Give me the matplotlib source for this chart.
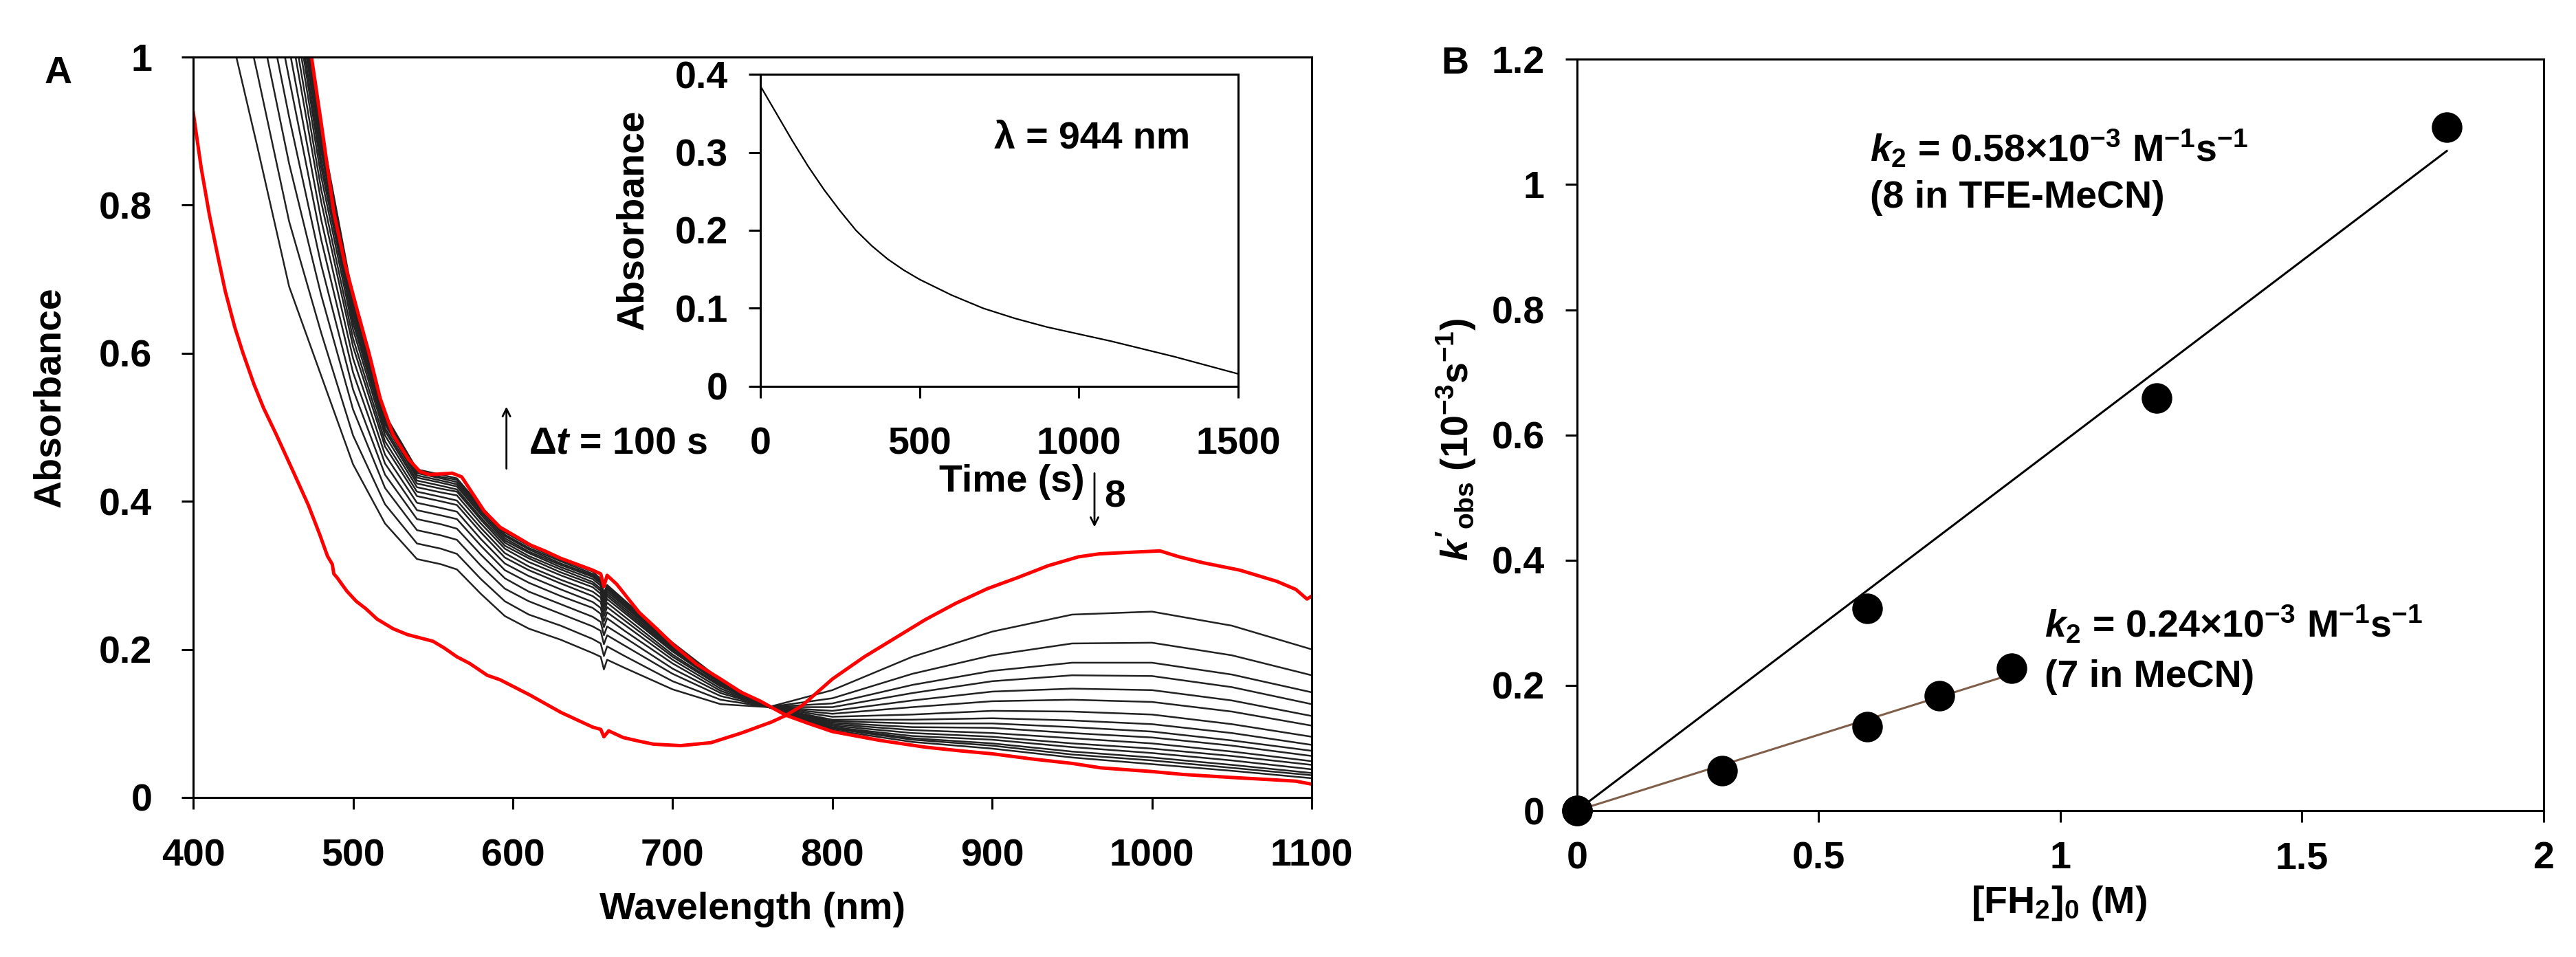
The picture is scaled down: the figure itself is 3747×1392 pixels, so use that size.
import matplotlib
matplotlib.use('Agg')
import matplotlib.pyplot as plt
from matplotlib.ticker import FuncFormatter

FONT = 'Liberation Sans'
FS = 20

plt.rcParams['font.family'] = [FONT, 'DejaVu Sans']
plt.rcParams['font.weight'] = 'bold'
plt.rcParams['mathtext.fontset'] = 'custom'
plt.rcParams['mathtext.rm'] = FONT + ':bold'
plt.rcParams['mathtext.it'] = FONT + ':italic:bold'
plt.rcParams['mathtext.bf'] = FONT + ':bold'

# ---- panel A : spectra ----
# red spectrum of 8 (start)
red_start_wl = [400, 405, 410, 415, 420, 426, 431, 438, 444, 452, 463, 472, 479, 484, 487, 488, 490,
                496, 502, 508, 515, 525, 534, 550, 557, 565, 573, 584, 592, 611, 630, 650, 655, 657,
                660, 669, 679, 688, 705, 724, 743, 762, 771, 781, 800, 820, 839, 858, 877, 897, 916,
                935, 954, 967, 985, 1005, 1017, 1032, 1055, 1078, 1090, 1097, 1100]
red_start_abs = [0.925, 0.85, 0.788, 0.735, 0.684, 0.635, 0.601, 0.558, 0.526, 0.49, 0.438, 0.395, 0.356,
                 0.326, 0.315, 0.302, 0.297, 0.279, 0.265, 0.255, 0.241, 0.228, 0.220, 0.211, 0.202, 0.19,
                 0.181, 0.165, 0.159, 0.138, 0.115, 0.095, 0.092, 0.082, 0.090, 0.081, 0.076, 0.072, 0.07,
                 0.074, 0.087, 0.102, 0.111, 0.124, 0.160, 0.190, 0.215, 0.240, 0.262, 0.282, 0.297, 0.313,
                 0.325, 0.329, 0.331, 0.333, 0.325, 0.317, 0.307, 0.292, 0.281, 0.268, 0.272]

# red spectrum at the end
red_end_wl = [465, 474, 480, 488, 495, 502, 510, 517, 525, 535, 542, 548, 555, 562, 568, 575, 582, 592,
              600, 611, 620, 630, 640, 650, 655, 657, 659, 665, 679, 690, 701, 715, 730, 743, 755, 765,
              771, 785, 800, 830, 858, 880, 900, 925, 950, 968, 1000, 1020, 1050, 1075, 1090, 1100]
red_end_abs = [1.13, 1.0, 0.912, 0.79, 0.72, 0.663, 0.60, 0.539, 0.49, 0.456, 0.44, 0.436, 0.437, 0.438,
               0.433, 0.41, 0.387, 0.365, 0.355, 0.341, 0.333, 0.323, 0.315, 0.307, 0.302, 0.285, 0.300,
               0.288, 0.25, 0.228, 0.205, 0.18, 0.16, 0.142, 0.13, 0.118, 0.111, 0.10, 0.089, 0.077, 0.068,
               0.063, 0.059, 0.052, 0.046, 0.040, 0.035, 0.031, 0.027, 0.024, 0.022, 0.018]

# black spectra every 100 s
black_wl = [420, 440, 460, 480, 500, 520, 540, 555, 565, 580, 595, 610, 630, 650, 655, 657, 659, 670,
            700, 730, 760, 800, 850, 900, 950, 1000, 1050, 1100]
black_abs = [
    [1.064, 0.880, 0.690, 0.570, 0.450, 0.370, 0.322, 0.315, 0.308, 0.275, 0.245, 0.228, 0.213, 0.195, 0.190, 0.173, 0.186, 0.175, 0.146, 0.126, 0.122, 0.145, 0.190, 0.224, 0.247, 0.251, 0.232, 0.200],
    [1.172, 0.979, 0.778, 0.628, 0.489, 0.396, 0.343, 0.336, 0.329, 0.295, 0.265, 0.247, 0.232, 0.214, 0.208, 0.191, 0.204, 0.191, 0.157, 0.132, 0.122, 0.134, 0.167, 0.192, 0.208, 0.209, 0.192, 0.165],
    [1.268, 1.066, 0.856, 0.679, 0.524, 0.418, 0.361, 0.354, 0.348, 0.313, 0.282, 0.265, 0.248, 0.231, 0.225, 0.207, 0.219, 0.205, 0.167, 0.137, 0.122, 0.127, 0.152, 0.171, 0.182, 0.182, 0.166, 0.142],
    [1.344, 1.135, 0.919, 0.720, 0.551, 0.436, 0.376, 0.369, 0.363, 0.328, 0.296, 0.278, 0.261, 0.244, 0.237, 0.219, 0.231, 0.216, 0.174, 0.141, 0.122, 0.122, 0.141, 0.157, 0.165, 0.164, 0.149, 0.126],
    [1.407, 1.193, 0.971, 0.754, 0.574, 0.451, 0.388, 0.381, 0.376, 0.340, 0.307, 0.290, 0.272, 0.256, 0.248, 0.230, 0.242, 0.225, 0.181, 0.144, 0.122, 0.117, 0.131, 0.143, 0.147, 0.145, 0.131, 0.110],
    [1.458, 1.240, 1.012, 0.781, 0.593, 0.463, 0.398, 0.391, 0.386, 0.349, 0.316, 0.299, 0.281, 0.264, 0.256, 0.238, 0.250, 0.233, 0.186, 0.147, 0.122, 0.113, 0.122, 0.130, 0.132, 0.129, 0.116, 0.097],
    [1.503, 1.280, 1.049, 0.805, 0.609, 0.474, 0.407, 0.400, 0.395, 0.358, 0.324, 0.307, 0.289, 0.272, 0.264, 0.245, 0.257, 0.239, 0.190, 0.150, 0.122, 0.109, 0.112, 0.117, 0.116, 0.112, 0.099, 0.082],
    [1.535, 1.309, 1.075, 0.822, 0.620, 0.481, 0.413, 0.406, 0.401, 0.364, 0.330, 0.312, 0.294, 0.278, 0.270, 0.251, 0.263, 0.244, 0.193, 0.151, 0.122, 0.105, 0.105, 0.107, 0.104, 0.099, 0.087, 0.071],
    [1.566, 1.338, 1.101, 0.839, 0.632, 0.489, 0.419, 0.412, 0.408, 0.370, 0.336, 0.318, 0.300, 0.284, 0.275, 0.257, 0.268, 0.249, 0.197, 0.153, 0.122, 0.103, 0.100, 0.100, 0.095, 0.089, 0.077, 0.063],
    [1.592, 1.361, 1.122, 0.852, 0.641, 0.495, 0.424, 0.417, 0.413, 0.375, 0.340, 0.323, 0.304, 0.288, 0.279, 0.260, 0.272, 0.252, 0.199, 0.154, 0.122, 0.101, 0.095, 0.094, 0.087, 0.081, 0.070, 0.056],
    [1.611, 1.379, 1.137, 0.862, 0.648, 0.499, 0.428, 0.421, 0.416, 0.378, 0.344, 0.326, 0.308, 0.291, 0.282, 0.263, 0.275, 0.255, 0.201, 0.155, 0.122, 0.099, 0.091, 0.087, 0.080, 0.073, 0.062, 0.049],
    [1.630, 1.396, 1.153, 0.873, 0.655, 0.504, 0.432, 0.425, 0.420, 0.382, 0.347, 0.330, 0.311, 0.295, 0.286, 0.267, 0.278, 0.258, 0.203, 0.156, 0.122, 0.097, 0.087, 0.082, 0.073, 0.066, 0.056, 0.044],
    [1.646, 1.411, 1.166, 0.881, 0.660, 0.507, 0.435, 0.428, 0.423, 0.385, 0.350, 0.332, 0.314, 0.298, 0.289, 0.270, 0.281, 0.260, 0.205, 0.157, 0.122, 0.095, 0.083, 0.078, 0.068, 0.060, 0.050, 0.038],
    [1.662, 1.425, 1.179, 0.890, 0.666, 0.511, 0.438, 0.431, 0.426, 0.388, 0.353, 0.335, 0.316, 0.300, 0.291, 0.272, 0.283, 0.262, 0.206, 0.158, 0.122, 0.094, 0.080, 0.073, 0.062, 0.054, 0.044, 0.033],
    [1.675, 1.437, 1.189, 0.896, 0.671, 0.514, 0.440, 0.433, 0.429, 0.390, 0.355, 0.337, 0.319, 0.302, 0.293, 0.274, 0.285, 0.264, 0.207, 0.159, 0.122, 0.093, 0.078, 0.070, 0.058, 0.050, 0.040, 0.030],
    [1.687, 1.448, 1.200, 0.903, 0.675, 0.517, 0.443, 0.436, 0.431, 0.393, 0.358, 0.340, 0.321, 0.305, 0.295, 0.276, 0.287, 0.266, 0.209, 0.159, 0.122, 0.091, 0.075, 0.066, 0.054, 0.045, 0.036, 0.026],
]

# inset: decay at 944 nm
time_s = [0, 50, 100, 150, 200, 250, 300, 350, 400, 450, 500, 600, 700, 800, 900, 1000, 1100, 1200,
          1300, 1400, 1500]
abs_944 = [0.385, 0.350, 0.315, 0.282, 0.252, 0.225, 0.200, 0.180, 0.163, 0.149, 0.137, 0.117, 0.100,
           0.087, 0.076, 0.067, 0.058, 0.048, 0.038, 0.027, 0.016]

# ---- panel B : kobs vs [FH2] ----
tfe_conc = [0, 0.6, 1.2, 1.8]
tfe_kobs = [0, 0.323, 0.659, 1.092]
mecn_conc = [0, 0.3, 0.6, 0.75, 0.9]
mecn_kobs = [0, 0.064, 0.134, 0.183, 0.227]

fmt = FuncFormatter(lambda v, p: '%g' % round(v, 3))


def style_axes(ax, pad, length):
    for s in ax.spines.values():
        s.set_linewidth(1.1)
    ax.tick_params(direction='out', length=length, width=1.1, pad=pad, labelsize=FS,
                   top=False, right=False)
    ax.xaxis.set_major_formatter(fmt)
    ax.yaxis.set_major_formatter(fmt)


fig = plt.figure(figsize=(18.74, 6.96), dpi=200)

ax1 = fig.add_axes([0.075, 0.1667, 0.4341, 0.7737])
for spec in black_abs:
    ax1.plot(black_wl, spec, color='#222222', lw=0.9)
ax1.plot(red_end_wl, red_end_abs, color='#ff0000', lw=1.8)
ax1.plot(red_start_wl, red_start_abs, color='#ff0000', lw=1.8)
ax1.set_xlim(400, 1100)
ax1.set_ylim(0, 1)
ax1.set_xticks(range(400, 1101, 100))
ax1.set_yticks([0, 0.2, 0.4, 0.6, 0.8, 1.0])
style_axes(ax1, 15.5, 6)
ax1.text(-0.128, 0.541, 'Absorbance', transform=ax1.transAxes, rotation=90, ha='center',
         va='center', fontsize=FS)
ax1.text(0.5, -0.151, 'Wavelength (nm)', transform=ax1.transAxes, ha='center', va='center',
         fontsize=FS)
ax1.annotate('', xy=(596, 0.533), xytext=(596, 0.439),
             arrowprops=dict(arrowstyle='->', lw=1.0, color='black'))
ax1.text(610, 0.478, 'Δ$t$ = 100 s', ha='left', va='center', fontsize=FS)
ax1.annotate('', xy=(964, 0.36), xytext=(964, 0.443),
             arrowprops=dict(arrowstyle='->', lw=1.0, color='black'))
ax1.text(970, 0.405, '8', ha='left', va='center', fontsize=FS)

# inset
ax2 = fig.add_axes([0.2951, 0.5963, 0.1854, 0.3261])
ax2.set_facecolor('white')
ax2.plot(time_s, abs_944, color='black', lw=0.8)
ax2.set_xlim(0, 1500)
ax2.set_ylim(0, 0.4)
ax2.set_xticks([0, 500, 1000, 1500])
ax2.set_yticks([0, 0.1, 0.2, 0.3, 0.4])
style_axes(ax2, 11, 6)
ax2.tick_params(axis='x', pad=15)
ax2.text(-0.266, 0.533, 'Absorbance', transform=ax2.transAxes, rotation=90, ha='center',
         va='center', fontsize=FS)
ax2.text(0.527, -0.306, 'Time (s)', transform=ax2.transAxes, ha='center', va='center', fontsize=FS)
ax2.text(734, 0.318, 'λ = 944 nm', ha='left', va='center', fontsize=FS)

# panel B
ax3 = fig.add_axes([0.612, 0.153, 0.3751, 0.785])
for conc, kobs, col in [(tfe_conc, tfe_kobs, 'black'), (mecn_conc, mecn_kobs, '#7f5f4a')]:
    slope = sum(c * k for c, k in zip(conc, kobs)) / sum(c * c for c in conc)
    ax3.plot([0, max(conc)], [0, slope * max(conc)], color=col, lw=1.1, zorder=2)
    ax3.plot(conc, kobs, 'o', color='black', ms=15, zorder=3, clip_on=False)
ax3.set_xlim(0, 2)
ax3.set_ylim(0, 1.2)
ax3.set_xticks([0, 0.5, 1, 1.5, 2])
ax3.set_yticks([0, 0.2, 0.4, 0.6, 0.8, 1.0, 1.2])
style_axes(ax3, 11, 6)
ax3.tick_params(axis='x', pad=10)
ax3.text(-0.125, 0.494, "$k'_{\\rm obs}$ (10$^{-3}$s$^{-1}$)", transform=ax3.transAxes,
         rotation=90, ha='center', va='center', fontsize=FS)
ax3.text(0.499, -0.1235, '[FH$_2$]$_0$ (M)', transform=ax3.transAxes, ha='center', va='center',
         fontsize=FS)
ax3.text(0.607, 1.036, '$k_2$ = 0.58×10$^{-3}$ M$^{-1}$s$^{-1}$', ha='left', va='baseline', fontsize=FS)
ax3.text(0.607, 0.963, '(8 in TFE-MeCN)', ha='left', va='baseline', fontsize=FS)
ax3.text(0.968, 0.276, '$k_2$ = 0.24×10$^{-3}$ M$^{-1}$s$^{-1}$', ha='left', va='baseline', fontsize=FS)
ax3.text(0.968, 0.198, '(7 in MeCN)', ha='left', va='baseline', fontsize=FS)

fig.text(85 / 3748, 1 - 107 / 1392, 'A', ha='center', va='center', fontsize=FS)
fig.text(2116 / 3748, 1 - 93 / 1392, 'B', ha='center', va='center', fontsize=FS)

fig.savefig('out.png', dpi=200)
